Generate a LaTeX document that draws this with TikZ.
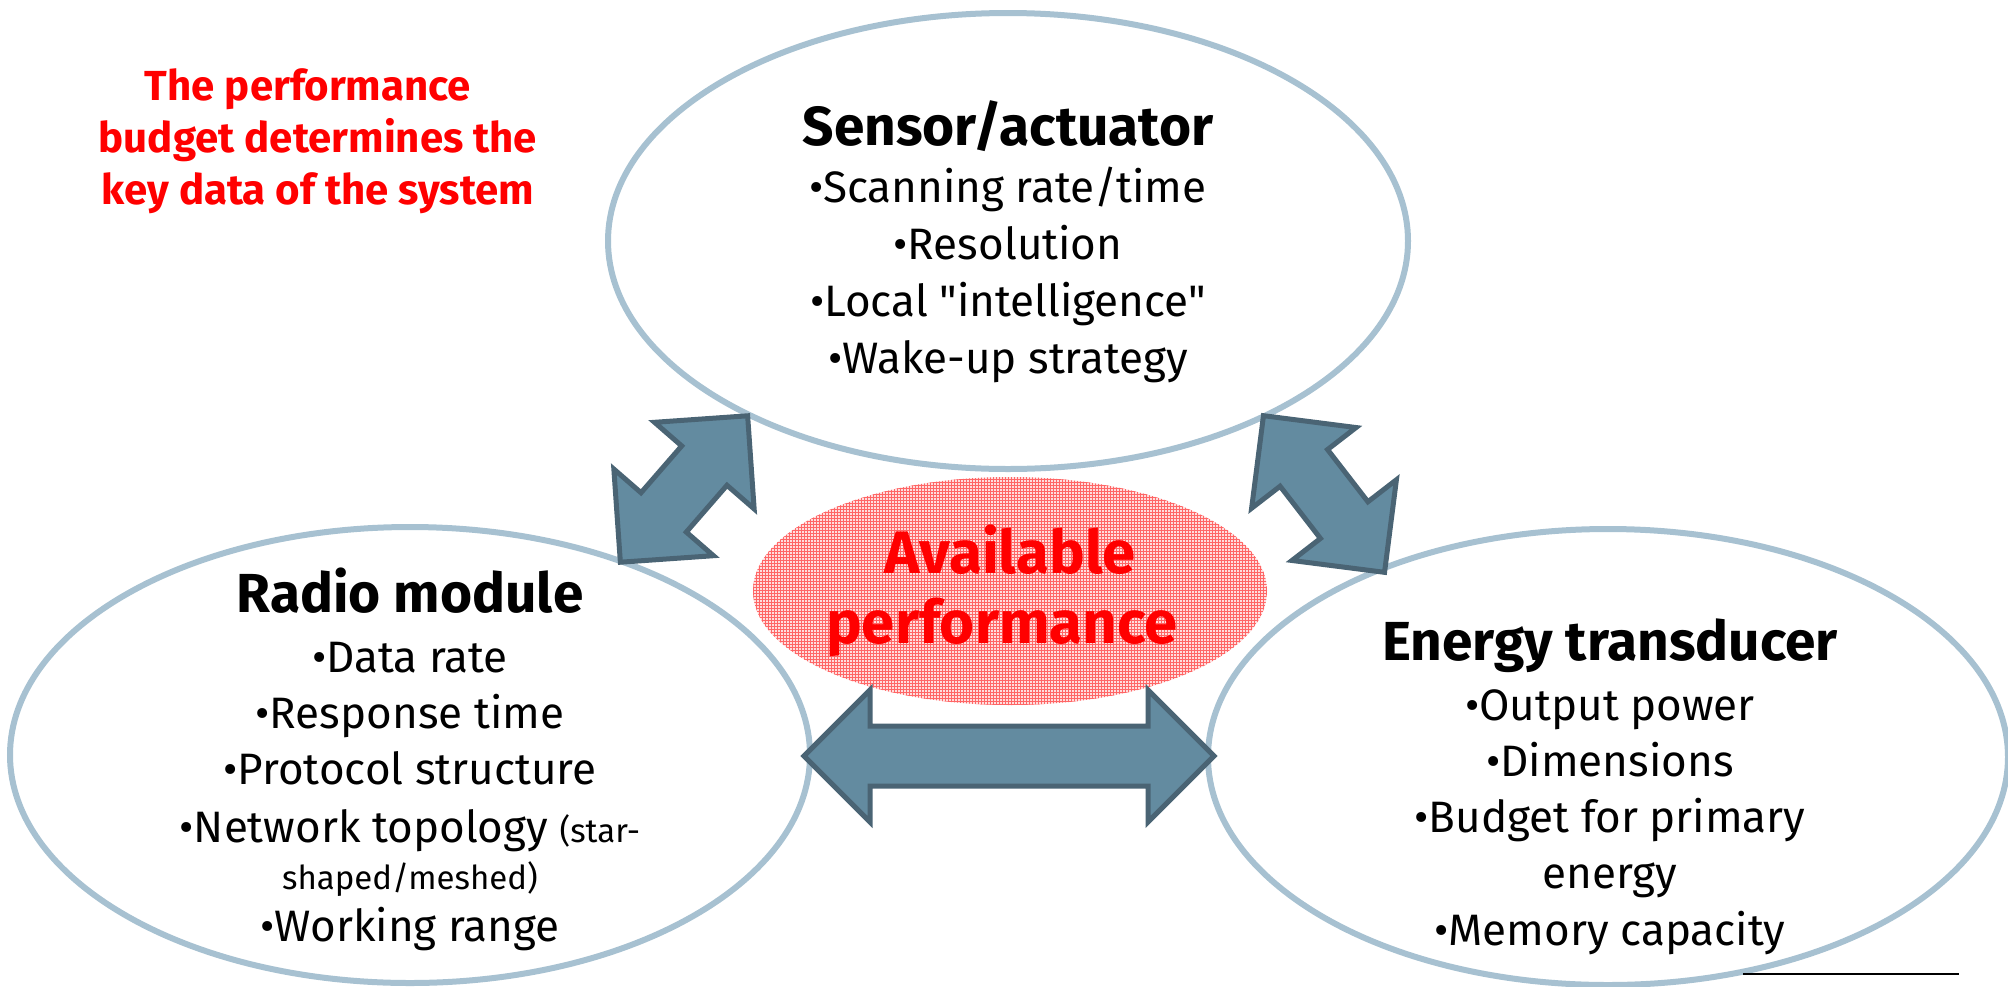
\documentclass[tikz,border=0pt]{standalone}
\usepackage{fontspec}
\setmainfont{Fira Sans}[Ligatures=TeXOff]
\usetikzlibrary{patterns,shapes.geometric}
\definecolor{ellline}{RGB}{167,193,209}
\definecolor{arrfill}{RGB}{99,139,160}
\definecolor{arrline}{RGB}{74,100,116}
\definecolor{hotred}{RGB}{255,0,0}
\newcommand{\dblarrow}[4]{%
  \draw[bigarrow, shift={(#1,#2)}, rotate=#3]
    (-#4,0) -- (-#4+66,66) -- (-#4+66,30) -- (#4-66,30) -- (#4-66,66) -- (#4,0)
    -- (#4-66,-66) -- (#4-66,-30) -- (-#4+66,-30) -- (-#4+66,-66) -- cycle;}
\begin{document}
\begin{tikzpicture}[x=1pt,y=-1pt,
  bubble/.style={draw=ellline, line width=6pt, fill=white, ellipse, inner sep=0pt,
    minimum width=800pt, minimum height=456pt},
  bigarrow/.style={fill=arrfill, draw=arrline, line width=5pt, line join=miter},
  head/.style={anchor=base, inner sep=0pt, font=\fontsize{55}{60}\selectfont\bfseries},
  item/.style={anchor=base, inner sep=0pt, font=\fontsize{44}{50}\selectfont},
  smallitem/.style={anchor=base, inner sep=0pt, font=\fontsize{33}{36}\selectfont},
  redtxt/.style={anchor=base, inner sep=0pt, text=hotred, font=\fontsize{42}{46}\selectfont\bfseries},
  centertxt/.style={anchor=base, inner sep=0pt, text=hotred, font=\fontsize{60}{64}\selectfont\bfseries}]
\useasboundingbox (0,0) rectangle (2008,986);

% ellipses
\node[bubble] (sensor) at (1008,241) {};
\node[bubble] (radio) at (410,755) {};
\node[bubble] (energy) at (1608,757) {};

% central ellipse
\coordinate (core) at (1010,591);
\fill[red!13] (core) ellipse [x radius=257, y radius=114];
\fill[pattern=grid, pattern color=red!60] (core) ellipse [x radius=257, y radius=114];

% arrows
\dblarrow{684}{489}{49}{97}
\dblarrow{1324}{494}{127.7}{99}
\dblarrow{1009}{756}{0}{205}

% bottom right rule
\coordinate (ruleA) at (1743,974);
\coordinate (ruleB) at (1959,974);
\draw[line width=2.5pt, black] (ruleA) -- (ruleB);

% red title
\node[redtxt] (t1) at (308,100) {The performance};
\node[redtxt] (t2) at (318,152) {budget determines the};
\node[redtxt] (t3) at (318,204) {key data of the system};

% central text
\node[centertxt] (av1) at (1010,573) {Available};
\node[centertxt] (av2) at (1002,643) {performance};

% sensor text
\node[head] (sh) at (1008,145) {Sensor/actuator};
\node[item] (s1) at (1008,202) {•Scanning rate/time};
\node[item] (s2) at (1008,259) {•Resolution};
\node[item] (s3) at (1008,316) {•Local "intelligence"};
\node[item] (s4) at (1008,373) {•Wake-up strategy};

% radio text
\node[head] (rh) at (410,612) {Radio module};
\node[item] (r1) at (410,672) {•Data rate};
\node[item] (r2) at (410,728) {•Response time};
\node[item] (r3) at (410,784) {•Protocol structure};
\node[item] (r4) at (410,842) {•Network topology {\fontsize{33}{36}\selectfont (star-}};
\node[smallitem] (r5) at (410,889) {shaped/meshed)};
\node[item] (r6) at (410,941) {•Working range};

% energy text
\node[head] (eh) at (1610,660) {Energy transducer};
\node[item] (e1) at (1610,720) {•Output power};
\node[item] (e2) at (1610,776) {•Dimensions};
\node[item] (e3) at (1610,832) {•Budget for primary};
\node[item] (e4) at (1610,888) {energy};
\node[item] (e5) at (1610,945) {•Memory capacity};
\end{tikzpicture}
\end{document}
